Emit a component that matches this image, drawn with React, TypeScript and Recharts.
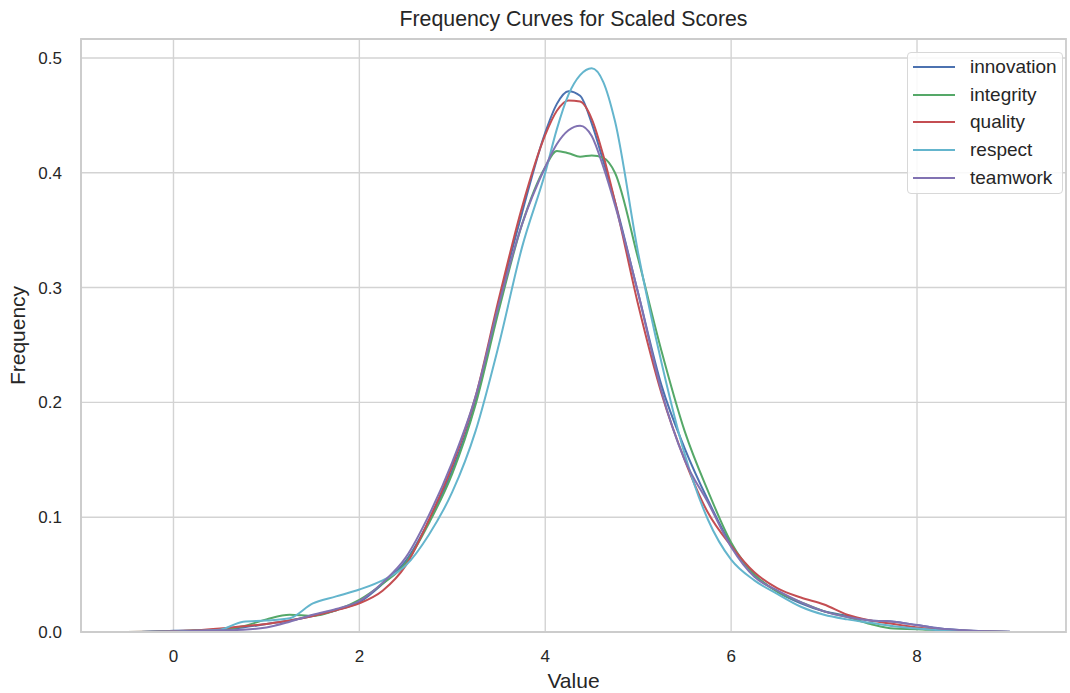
import React from 'react';
import { LineChart, Line, XAxis, YAxis, CartesianGrid, ReferenceArea } from 'recharts';

const xValues = [
  -0.5, -0.25, 0, 0.25, 0.5, 0.75, 1, 1.25, 1.5, 1.75, 2, 2.25, 2.5, 2.75, 3, 3.25, 3.5, 3.75, 4,
  4.125, 4.25, 4.375, 4.5, 4.625, 4.75,
  5, 5.25, 5.5, 5.75, 6, 6.25, 6.5, 6.75, 7, 7.25, 7.5, 7.75, 8, 8.25, 8.5, 8.75, 9,
];

const innovation = [
  0, 0.0003, 0.001, 0.0015, 0.002, 0.004, 0.007, 0.010, 0.014, 0.019, 0.026, 0.042, 0.062, 0.097, 0.141, 0.200, 0.287, 0.365, 0.435,
  0.460, 0.471, 0.467, 0.443, 0.410, 0.375,
  0.295, 0.215, 0.160, 0.115, 0.076, 0.050, 0.035, 0.025, 0.018, 0.014, 0.010, 0.009, 0.006, 0.003, 0.0015, 0.0007, 0.0002,
];
const integrity = [
  0, 0.0003, 0.0008, 0.0012, 0.002, 0.005, 0.011, 0.015, 0.014, 0.019, 0.028, 0.042, 0.060, 0.095, 0.138, 0.198, 0.280, 0.355, 0.405,
  0.419, 0.417, 0.414, 0.415, 0.413, 0.400,
  0.325, 0.245, 0.175, 0.123, 0.078, 0.050, 0.035, 0.026, 0.018, 0.013, 0.007, 0.003, 0.0025, 0.0015, 0.0008, 0.0003, 0.0001,
];
const quality = [
  0, 0.0003, 0.0008, 0.0015, 0.003, 0.005, 0.007, 0.010, 0.014, 0.019, 0.025, 0.036, 0.058, 0.098, 0.145, 0.205, 0.290, 0.370, 0.433,
  0.454, 0.463, 0.462, 0.447, 0.415, 0.375,
  0.285, 0.208, 0.150, 0.104, 0.075, 0.052, 0.038, 0.030, 0.024, 0.015, 0.010, 0.007, 0.004, 0.002, 0.001, 0.0004, 0.0001,
];
const respect = [
  0, 0.0002, 0.0005, 0.001, 0.002, 0.009, 0.010, 0.012, 0.025, 0.031, 0.037, 0.045, 0.058, 0.085, 0.122, 0.175, 0.250, 0.335, 0.400,
  0.438, 0.468, 0.485, 0.491, 0.479, 0.445,
  0.330, 0.235, 0.155, 0.098, 0.063, 0.045, 0.033, 0.022, 0.015, 0.011, 0.008, 0.005, 0.003, 0.0015, 0.0008, 0.0003, 0,
];
const teamwork = [
  0, 0.0002, 0.0005, 0.001, 0.0015, 0.002, 0.004, 0.009, 0.015, 0.020, 0.027, 0.043, 0.065, 0.102, 0.148, 0.205, 0.285, 0.355, 0.405,
  0.425, 0.437, 0.441, 0.432, 0.405, 0.372,
  0.295, 0.210, 0.150, 0.113, 0.074, 0.048, 0.036, 0.026, 0.018, 0.013, 0.010, 0.009, 0.006, 0.003, 0.0015, 0.0007, 0.0002,
];

const xTicks = [0, 2, 4, 6, 8];
const yTicks = [0, 0.1, 0.2, 0.3, 0.4, 0.5];
const xDomain = [-0.995, 9.603];
const yDomain = [0, 0.5165];

const series = [
  { key: 'innovation', color: '#4C72B0' },
  { key: 'integrity', color: '#55A868' },
  { key: 'quality', color: '#C44E52' },
  { key: 'respect', color: '#64B5CD' },
  { key: 'teamwork', color: '#8172B2' },
];

const data = xValues.map((x, i) => ({
  x,
  innovation: innovation[i],
  integrity: integrity[i],
  quality: quality[i],
  respect: respect[i],
  teamwork: teamwork[i],
}));

const FONT = '"Liberation Sans", Arial, sans-serif';
const TEXT = '#262626';
const GRID = '#d3d3d3';
const SPINE = '#cccccc';

const YLabel = (props: any) => {
  const vb = props.viewBox;
  const cx = vb.x + 25;
  const cy = vb.y + vb.height / 2;
  return (
    <text x={cx} y={cy} transform={`rotate(-90, ${cx}, ${cy})`} textAnchor="middle"
      fontSize={21} fill={TEXT} fontFamily={FONT}>
      Frequency
    </text>
  );
};

export default function App() {
  return (
    <div style={{ position: 'absolute', left: 0, top: 0, width: 1070, height: 693, background: '#fff', fontFamily: FONT }}>
      <div style={{ position: 'absolute', top: 7, left: 81, width: 985, textAlign: 'center', fontSize: 21.3, color: TEXT }}>
        Frequency Curves for Scaled Scores
      </div>
      <LineChart width={1070} height={693} data={data} margin={{ top: 39, right: 4, bottom: 0, left: 0 }}>
        <CartesianGrid stroke={GRID} strokeWidth={1.4} horizontalValues={yTicks} verticalValues={xTicks} />
        <XAxis
          dataKey="x"
          type="number"
          domain={xDomain}
          ticks={xTicks}
          height={61}
          tickLine={false}
          axisLine={{ stroke: SPINE, strokeWidth: 1.8 }}
          tickMargin={12}
          tick={{ fontSize: 17, fill: TEXT, fontFamily: FONT }}
          label={{ value: 'Value', position: 'insideBottom', offset: 5, fontSize: 21, fill: TEXT, fontFamily: FONT }}
        />
        <YAxis
          type="number"
          domain={yDomain}
          ticks={yTicks}
          width={81}
          tickLine={false}
          axisLine={{ stroke: SPINE, strokeWidth: 1.8 }}
          tickMargin={13}
          tickFormatter={(v: number) => v.toFixed(1)}
          tick={{ fontSize: 17, fill: TEXT, fontFamily: FONT }}
          label={<YLabel />}
        />
        <ReferenceArea
          x1={xDomain[0]} x2={xDomain[1]} y1={yDomain[0]} y2={yDomain[1]}
          fill="none" fillOpacity={0} stroke={SPINE} strokeWidth={1.8}
        />
        {series.map((s) => (
          <Line
            key={s.key}
            type="monotone"
            dataKey={s.key}
            stroke={s.color}
            strokeWidth={2}
            dot={false}
            activeDot={false}
            isAnimationActive={false}
          />
        ))}
      </LineChart>
      <div style={{
        position: 'absolute', left: 907, top: 52, width: 156, height: 142,
        border: '1px solid #d8d8d8', borderRadius: 4, background: 'rgba(255,255,255,0.85)',
        boxSizing: 'border-box', paddingTop: 0,
      }}>
        {series.map((s) => (
          <div key={s.key} style={{ display: 'flex', alignItems: 'center', height: 27.7 }}>
            <div style={{ width: 42, height: 2, background: s.color, marginLeft: 5, marginRight: 15 }} />
            <span style={{ fontSize: 19, color: TEXT }}>{s.key}</span>
          </div>
        ))}
      </div>
    </div>
  );
}
